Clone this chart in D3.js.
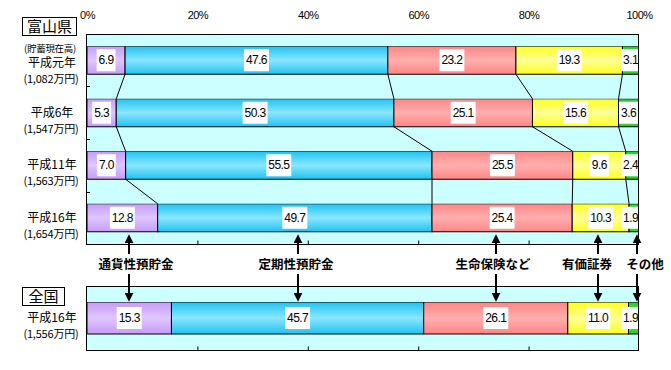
<!DOCTYPE html>
<html>
<head>
<meta charset="utf-8">
<script src="https://cdn.jsdelivr.net/npm/d3@7"></script>
<style>
  body { margin: 0; background: #fff; }
  svg { display: block; font-family: "Noto Sans CJK JP", "Liberation Sans", sans-serif; }
</style>
</head>
<body>
<svg width="671" height="370"></svg>
<script>
// categories and values
var categories = ["通貨性預貯金", "定期性預貯金", "生命保険など", "有価証券", "その他"];
var years = ["平成元年", "平成6年", "平成11年", "平成16年"];
var amounts = ["(1,082万円)", "(1,547万円)", "(1,563万円)", "(1,654万円)"];
var toyama = [
  [6.9, 47.6, 23.2, 19.3, 3.1],
  [5.3, 50.3, 25.1, 15.6, 3.6],
  [7.0, 55.5, 25.5, 9.6, 2.4],
  [12.8, 49.7, 25.4, 10.3, 1.9]
];
var nationYears = ["平成16年"];
var nationAmounts = ["(1,556万円)"];
var nation = [[15.3, 45.7, 26.1, 11.0, 1.9]];
var percentTicks = [0, 20, 40, 60, 80, 100];

// colours: [edge, middle] for a vertical gradient
var colors = [
  ["#c59cf6", "#dfc6ff"],
  ["#1fc3f1", "#8ae6ff"],
  ["#ff8585", "#ffafaf"],
  ["#ffff1a", "#ffff99"],
  ["#22cc22", "#77ee77"]
];

var svg = d3.select("svg");
var x = d3.scaleLinear().domain([0, 100]).range([87, 639]);

var defs = svg.append("defs");
colors.forEach(function(c, i) {
  var g = defs.append("linearGradient").attr("id", "grad" + i)
    .attr("x1", 0).attr("x2", 0).attr("y1", 0).attr("y2", 1);
  g.append("stop").attr("offset", "0%").attr("stop-color", c[0]);
  g.append("stop").attr("offset", "50%").attr("stop-color", c[1]);
  g.append("stop").attr("offset", "100%").attr("stop-color", c[0]);
});
defs.append("clipPath").attr("id", "plotclip").append("rect")
  .attr("x", x(0)).attr("y", 0).attr("width", x(100) - x(0)).attr("height", 370);
defs.append("marker").attr("id", "arrow")
  .attr("viewBox", "0 0 10 10").attr("refX", 8).attr("refY", 5)
  .attr("markerWidth", 4.5).attr("markerHeight", 4.5).attr("orient", "auto")
  .append("path").attr("d", "M0,0L10,5L0,10Z").attr("fill", "#000");

function stackRow(vals) {
  var cum = 0;
  return vals.map(function(v, i) {
    var s = { i: i, v: v, x0: cum, x1: cum + v };
    cum += v;
    return s;
  });
}

// percent labels at top
svg.append("g")
  .attr("transform", "translate(0,22)")
  .call(d3.axisTop(x).tickValues(percentTicks).tickSize(0).tickFormat(function(d) { return d + "%"; }))
  .call(function(g) { g.select(".domain").remove(); })
  .selectAll("text")
  .attr("font-family", "Liberation Sans, sans-serif")
  .attr("font-size", "11px")
  .attr("fill", "#000")
  .attr("letter-spacing", "-0.5px");

function drawPanel(top, bottom, cats, amts, data, outerPad, innerPad, boxLabel, boxY, boxW) {
  var y = d3.scaleBand().domain(cats).range([top, bottom])
    .paddingInner(innerPad).paddingOuter(outerPad);

  var g = svg.append("g");
  g.append("rect")
    .attr("x", x(0) - 0.5).attr("y", top + 0.5)
    .attr("width", x(100) - x(0)).attr("height", bottom - top)
    .attr("fill", "#ccffff");

  // connector lines between rows
  for (var r = 0; r < data.length - 1; r++) {
    var a = stackRow(data[r]), b = stackRow(data[r + 1]);
    for (var j = 0; j < 4; j++) {
      g.append("line")
        .attr("x1", x(a[j].x1)).attr("y1", y(cats[r]) + y.bandwidth())
        .attr("x2", x(b[j].x1)).attr("y2", y(cats[r + 1]))
        .attr("stroke", "#000").attr("stroke-width", 1);
    }
  }

  var rows = g.selectAll(".row").data(data).join("g")
    .attr("class", "row")
    .attr("transform", function(d, i) { return "translate(0," + y(cats[i]) + ")"; });

  rows.append("g").attr("clip-path", "url(#plotclip)")
    .selectAll("rect").data(stackRow).join("rect")
    .attr("x", function(d) { return x(d.x0); })
    .attr("width", function(d) { return x(d.x1) - x(d.x0); })
    .attr("y", 0).attr("height", y.bandwidth())
    .attr("fill", function(d) { return "url(#grad" + d.i + ")"; })
    .attr("stroke", "#000").attr("stroke-width", 1);

  var labs = rows.selectAll(".lab").data(stackRow).join("g").attr("class", "lab");
  labs.append("rect").attr("fill", "#fff");
  labs.append("text")
    .attr("font-family", "Liberation Sans, sans-serif")
    .attr("font-size", "12px")
    .attr("text-anchor", "middle")
    .attr("dy", "0.35em")
    .attr("letter-spacing", "-0.6px")
    .text(function(d) { return d.v.toFixed(1); });
  labs.each(function(d) {
    var lg = d3.select(this);
    var w = lg.select("text").node().getComputedTextLength() + 4;
    var cx = (x(d.x0) + Math.min(x(d.x1), x(100))) / 2;
    cx = Math.min(cx, x(100) + 1 - w / 2);
    lg.attr("transform", "translate(" + cx + "," + (y.bandwidth() / 2) + ")");
    lg.select("rect").attr("x", -w / 2).attr("y", -11).attr("width", w).attr("height", 22);
  });

  // outline and ticks
  g.append("rect")
    .attr("x", x(0) - 0.5).attr("y", top + 0.5)
    .attr("width", x(100) - x(0)).attr("height", bottom - top)
    .attr("fill", "none").attr("stroke", "#000");
  g.append("g")
    .attr("transform", "translate(0," + (bottom + 0.5) + ")")
    .call(d3.axisBottom(x).tickValues([20, 40, 60, 80]).tickSize(-4).tickFormat(""))
    .call(function(s) { s.select(".domain").remove(); });
  for (var k = 1; k < cats.length; k++) {
    var yy = Math.round(y(cats[k]) - y.step() * innerPad / 2) + 0.5;
    g.append("line").attr("x1", x(0)).attr("x2", x(0) + 3)
      .attr("y1", yy).attr("y2", yy).attr("stroke", "#000");
  }

  // row labels
  cats.forEach(function(c, i) {
    var cy = y(c) + y.bandwidth() / 2;
    var first = (i === 0 && boxLabel === "富山県");
    if (first) {
      g.append("text").attr("x", 50).attr("y", cy - 12).attr("dy", "0.35em")
        .attr("text-anchor", "middle").attr("font-size", "9.5px")
        .attr("letter-spacing", "-0.3px").text("(貯蓄現在高)");
    }
    g.append("text").attr("x", 52).attr("y", cy + (first ? 3 : 0)).attr("dy", "0.35em")
      .attr("text-anchor", "middle").attr("font-size", "12px").text(c);
    g.append("text").attr("x", 51).attr("y", cy + (first ? 19 : 16)).attr("dy", "0.35em")
      .attr("text-anchor", "middle").attr("font-size", "11px")
      .attr("letter-spacing", "-0.2px").text(amts[i]);
  });

  // title box
  g.append("rect").attr("x", 22.5).attr("y", boxY + 0.5).attr("width", boxW).attr("height", 18)
    .attr("fill", "#fff").attr("stroke", "#000");
  g.append("text").attr("x", 22.5 + boxW / 2).attr("y", boxY + 9.5).attr("dy", "0.36em")
    .attr("text-anchor", "middle").attr("font-size", "15px").text(boxLabel);

  return y;
}

var yTop = drawPanel(34, 244, years, amounts, toyama, 0.2333, 0.4667, "富山県", 17, 54);
var yBot = drawPanel(286, 350, nationYears, nationAmounts, nation, 0.25, 0.5, "全国", 287, 42);

// category labels with arrows, placed at the centres of the national bar segments
var nudge = [7, -2, -3, -11, 8];
var segs = stackRow(nation[0]);
var arrows = svg.append("g");
segs.forEach(function(s, i) {
  var ax = Math.round(x((s.x0 + Math.min(s.x1, 100)) / 2)) + (i === 4 ? 3 : 0);
  arrows.append("line")
    .attr("x1", ax).attr("x2", ax).attr("y1", 254).attr("y2", 236)
    .attr("stroke", "#000").attr("stroke-width", 2).attr("marker-end", "url(#arrow)");
  arrows.append("line")
    .attr("x1", ax).attr("x2", ax).attr("y1", 274).attr("y2", 300)
    .attr("stroke", "#000").attr("stroke-width", 2).attr("marker-end", "url(#arrow)");
  arrows.append("text")
    .attr("x", ax + nudge[i]).attr("y", 265).attr("dy", "0.35em")
    .attr("text-anchor", "middle")
    .attr("font-size", "12.5px").attr("font-weight", "bold")
    .text(categories[i]);
});
</script>
</body>
</html>
